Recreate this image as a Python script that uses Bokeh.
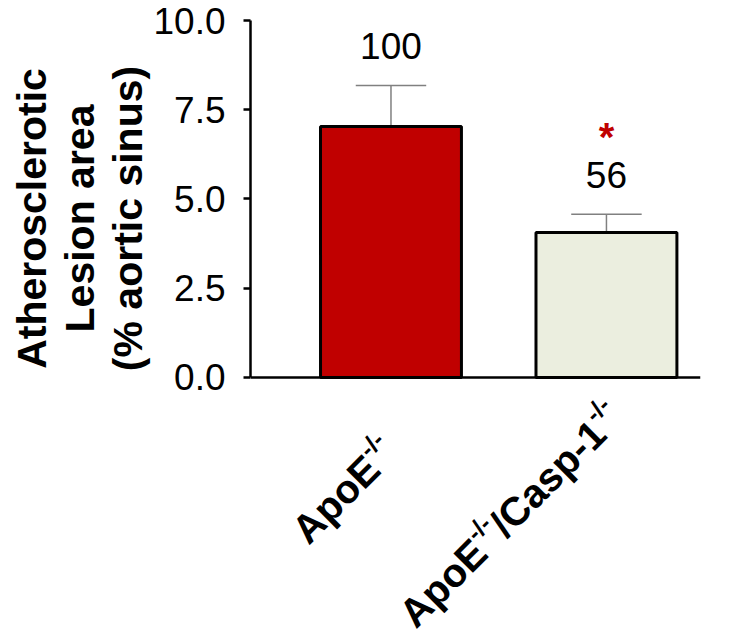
import math
from bokeh.plotting import figure
from bokeh.models import (Range1d, FixedTicker, NumeralTickFormatter,
                          ColumnDataSource, LabelSet, Label, Span, Title)
from bokeh.core.properties import value
from bokeh.embed import file_html
from bokeh.resources import INLINE

# ---------------- data ----------------
groups = ["ApoE-/-", "ApoE-/-/Casp-1-/-"]
group_label_parts = [
    [("ApoE", "main"), ("-/-", "sup")],
    [("ApoE", "main"), ("-/-", "sup"), ("/Casp-1", "main"), ("-/-", "sup")],
]
positions = [1, 2]
means = [7.03, 4.06]
sems = [1.15, 0.51]
percent_labels = ["100", "56"]
significance = ["", "*"]
y_ticks = [0, 2.5, 5, 7.5, 10]
bar_colors = ["#c00000", "#ebeedf"]
y_title_lines = ["Atherosclerotic", "Lesion area", "(% aortic sinus)"]

# ---------------- styling ----------------
FONT = "Liberation Sans"
bar_width = 0.654
cap_half = bar_width / 4
# Liberation Sans Bold advance widths (em units)
bold_w = {'A': .722, 'p': .611, 'o': .611, 'E': .667, '-': .333, '/': .278,
          'C': .722, 'a': .556, 's': .556, '1': .556, 't': .333, 'h': .611,
          'e': .556, 'r': .389, 'c': .556, 'l': .278, 'i': .278, 'L': .611,
          'n': .611, ' ': .278, '(': .333, '%': .889, 'u': .611, ')': .333}


def text_width(t, size):
    return sum(bold_w[ch] for ch in t) * size


CANVAS_H = 641
FRAME_TOP = 20
p = figure(width=734, height=CANVAS_H, output_backend="svg",
           toolbar_location=None, x_axis_location=None,
           x_range=Range1d(0.348, 2.4365), y_range=Range1d(-7.395, 10),
           min_border_left=250, min_border_right=34,
           min_border_top=FRAME_TOP, min_border_bottom=0)
p.xgrid.visible = False
p.ygrid.visible = False
p.outline_line_color = None
p.background_fill_color = "white"
p.border_fill_color = "white"

upper = [m + s for m, s in zip(means, sems)]
src = ColumnDataSource(dict(
    x=positions, top=means, upper=upper, color=bar_colors,
    pct=percent_labels, sig=significance,
    cl=[x - cap_half for x in positions], cr=[x + cap_half for x in positions],
))

# error bars (upper only)
p.segment(x0="x", y0="top", x1="x", y1="upper", source=src,
          line_color="#808080", line_width=1.5)
p.segment(x0="cl", y0="upper", x1="cr", y1="upper", source=src,
          line_color="#808080", line_width=1.5)

# bars
p.vbar(x="x", top="top", bottom=0, width=bar_width, source=src,
       fill_color="color", line_color="black", line_width=3)

# baseline (x axis line at zero)
p.add_layout(Span(location=0, dimension="width", line_color="black",
                  line_width=2.5))

# percentage labels
p.add_layout(LabelSet(x="x", y="upper", text="pct", source=src, y_offset=26,
                      text_align="center", text_baseline="alphabetic",
                      text_font=value(FONT), text_font_size="37px",
                      text_color="black"))
# significance star
p.add_layout(LabelSet(x="x", y="upper", text="sig", source=src, y_offset=63,
                      text_align="center", text_baseline="alphabetic",
                      text_font=value(FONT), text_font_size="40px",
                      text_font_style="bold", text_color="#c00000"))

# y axis
yax = p.yaxis[0]
yax.bounds = (0, 10)
yax.ticker = FixedTicker(ticks=y_ticks)
yax.formatter = NumeralTickFormatter(format="0.0")
yax.major_label_text_font = FONT
yax.major_label_text_font_size = "37px"
yax.major_label_text_color = "black"
yax.major_label_standoff = 18
yax.major_tick_out = 7
yax.major_tick_in = 0
yax.minor_tick_line_color = None
yax.axis_line_width = 2.5
yax.major_tick_line_width = 2.5
yax.axis_line_color = "black"
yax.major_tick_line_color = "black"

# y title: three centred lines
TITLE_SIZE = 41
title_center = 218          # px from canvas top
for line in reversed(y_title_lines):   # nearest the axis first
    off = (CANVAS_H - title_center) - text_width(line, TITLE_SIZE) / 2
    p.add_layout(Title(text=line, align="left", offset=off, standoff=0,
                       text_font=FONT, text_font_size=f"{TITLE_SIZE}px",
                       text_font_style="bold", text_color="black"), "left")

# rotated category labels with superscripts
MAIN, SUP, RAISE = 40, 25, 14
label_ends = [(-1.5, -68), (9, -33)]
c = math.cos(math.pi / 4)
for pos, parts, (rx, ry) in zip(positions, group_label_parts, label_ends):
    cum = 0.0
    for txt, kind in reversed(parts):
        size = MAIN if kind == "main" else SUP
        raise_ = RAISE if kind == "sup" else 0
        xo = rx - c * cum - c * raise_
        yo = ry - c * cum + c * raise_
        p.add_layout(Label(x=pos, y=0, x_offset=xo, y_offset=yo, text=txt,
                           angle=math.pi / 4, text_align="right",
                           text_baseline="alphabetic", text_font=FONT,
                           text_font_size=f"{size}px", text_font_style="bold",
                           text_color="black"))
        cum += text_width(txt, size)

open("out.html", "w").write(file_html(p, INLINE))
